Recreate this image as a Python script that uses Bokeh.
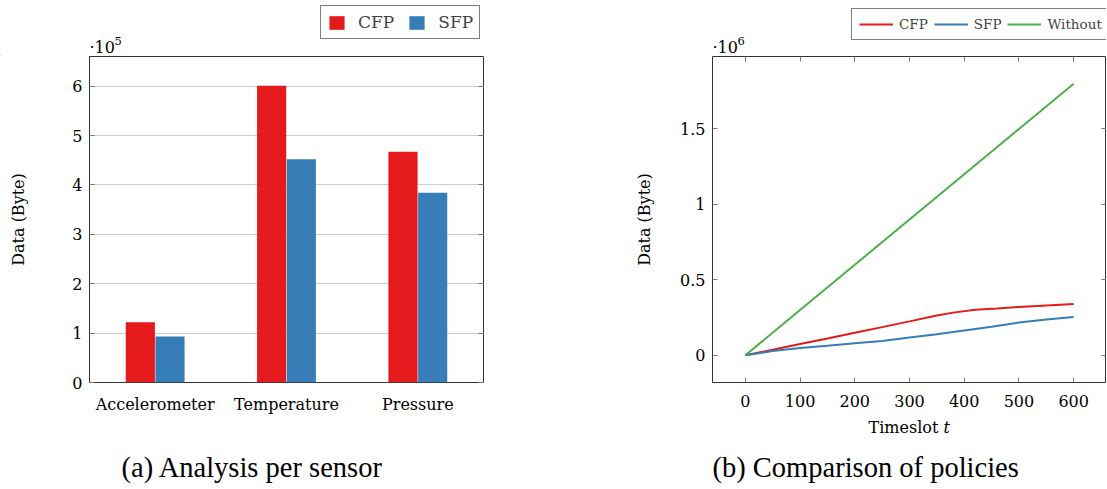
from bokeh.plotting import figure
from bokeh.models import (FactorRange, Range1d, Legend, LegendItem, LinearAxis, Label,
                          FixedTicker, CustomJSTickFormatter, ColumnDataSource)
from bokeh.transform import dodge
from bokeh.layouts import row, column
from bokeh.embed import file_html
from bokeh.resources import INLINE

# ---------------- data ----------------
sensors = ["Accelerometer", "Temperature", "Pressure"]
cfp_bytes = [1.22e5, 6.01e5, 4.67e5]
sfp_bytes = [0.93e5, 4.52e5, 3.84e5]
bar_ticks = [0, 1e5, 2e5, 3e5, 4e5, 5e5, 6e5]

t_cfp = [0, 50, 100, 150, 200, 250, 300, 350, 380, 420, 460, 500, 550, 600]
cfp_data = [0, 0.037e6, 0.075e6, 0.112e6, 0.150e6, 0.187e6, 0.225e6, 0.264e6, 0.283e6,
            0.302e6, 0.310e6, 0.320e6, 0.330e6, 0.340e6]
t_sfp = [0, 50, 100, 150, 200, 250, 300, 350, 400, 450, 500, 550, 600]
sfp_data = [0, 0.028e6, 0.048e6, 0.063e6, 0.080e6, 0.095e6, 0.118e6, 0.140e6, 0.165e6,
            0.190e6, 0.217e6, 0.237e6, 0.254e6]
t_without = [0, 100, 200, 300, 400, 500, 600]
without_data = [0, 0.3e6, 0.6e6, 0.9e6, 1.2e6, 1.5e6, 1.8e6]
line_xticks = [0, 100, 200, 300, 400, 500, 600]
line_yticks = [0, 0.5e6, 1.0e6, 1.5e6]

captions = ["(a) Analysis per sensor", "(b) Comparison of policies"]

RED = "#E41A1C"
BLUE = "#377EB8"
GREEN = "#4DAF4A"
FONT = "DejaVu Serif"
CAPFONT = "Liberation Serif"
TICKC = "#777777"

W1, W2 = 556, 550
TOPH = 56
MIDH = 361
BOTH = 70


def style_axis(ax, show_labels=True):
    ax.axis_line_color = None
    ax.major_tick_in = 5
    ax.major_tick_out = 0
    ax.minor_tick_line_color = None
    ax.major_tick_line_color = TICKC
    ax.major_label_text_font = FONT
    ax.major_label_text_font_size = "16px"
    ax.major_label_text_color = "black"
    ax.axis_label_text_font = FONT
    ax.axis_label_text_font_size = "16px"
    ax.axis_label_text_font_style = "normal"
    ax.axis_label_text_color = "black"
    if not show_labels:
        ax.formatter = CustomJSTickFormatter(code="return '';")
        ax.major_label_text_font_size = "0px"
        ax.major_label_standoff = 0


def strip(h):
    f = figure(width=W1 + W2, height=h, x_range=Range1d(0, W1 + W2), y_range=Range1d(0, h),
               output_backend="svg", toolbar_location=None, title_location=None,
               x_axis_location=None, y_axis_location=None, min_border=0,
               min_border_left=0, min_border_right=0, min_border_top=0, min_border_bottom=0)
    f.outline_line_color = None
    f.grid.grid_line_color = None
    return f


# ---------------- top strip: legends and exponent labels ----------------
top = strip(TOPH)
# off-range dummy renderers that only provide the legend swatches
d_cfp = top.vbar(x=[-1000], top=[1], width=1, fill_color=RED, line_color=None)
d_sfp = top.vbar(x=[-1000], top=[1], width=1, fill_color=BLUE, line_color=None)
d_lc = top.line(x=[-1000, -999], y=[1, 1], line_color=RED, line_width=2)
d_ls = top.line(x=[-1000, -999], y=[1, 1], line_color=BLUE, line_width=2)
d_lw = top.line(x=[-1000, -999], y=[1, 1], line_color=GREEN, line_width=2)
leg1 = Legend(items=[LegendItem(label="CFP", renderers=[d_cfp]),
                     LegendItem(label="SFP", renderers=[d_sfp])],
              location=(320, 17), orientation="horizontal", margin=0, padding=6,
              glyph_width=19, glyph_height=17, label_standoff=12, spacing=13,
              label_text_font=FONT, label_text_font_size="17px", label_height=20,
              border_line_color="black", border_line_width=1, background_fill_alpha=1)
leg2 = Legend(items=[LegendItem(label="CFP", renderers=[d_lc]),
                     LegendItem(label="SFP", renderers=[d_ls]),
                     LegendItem(label="Without", renderers=[d_lw])],
              location=(851, 16), orientation="horizontal", margin=0, padding=7,
              glyph_width=34, glyph_height=16, label_standoff=6, spacing=6,
              label_text_font=FONT, label_text_font_size="13.5px", label_height=16,
              border_line_color="black", border_line_width=1, background_fill_alpha=1)
top.add_layout(leg1, "center")
top.add_layout(leg2, "center")
for x0, ex in [(89, "5"), (712, "6")]:
    top.add_layout(Label(x=x0, y=9, text="·10", text_font=FONT, text_font_size="16px",
                         text_baseline="alphabetic", text_color="black"))
    top.add_layout(Label(x=x0 + 25, y=16, text=ex, text_font=FONT, text_font_size="11.5px",
                         text_baseline="alphabetic", text_color="black"))

# ---------------- left: bar chart ----------------
src = ColumnDataSource(dict(sensor=sensors, cfp=cfp_bytes, sfp=sfp_bytes))
p1 = figure(width=W1, height=MIDH, x_range=FactorRange(*sensors, range_padding=0),
            y_range=Range1d(0, 6.6e5), output_backend="svg", toolbar_location=None,
            title_location=None,
            min_border_left=89, min_border_right=73, min_border_top=0, min_border_bottom=35)
p1.vbar(x=dodge("sensor", -0.113, range=p1.x_range), top="cfp", width=0.222,
        source=src, fill_color=RED, line_color=None)
p1.vbar(x=dodge("sensor", 0.113, range=p1.x_range), top="sfp", width=0.222,
        source=src, fill_color=BLUE, line_color=None)
p1.outline_line_color = "#333333"
p1.xgrid.grid_line_color = None
p1.ygrid.grid_line_color = "#cccccc"
p1.ygrid.ticker = FixedTicker(ticks=bar_ticks)
p1.yaxis.ticker = FixedTicker(ticks=bar_ticks)
p1.yaxis.formatter = CustomJSTickFormatter(code="return (tick/1e5).toString();")
p1.yaxis.axis_label = "Data (Byte)"
for ax in p1.yaxis:
    style_axis(ax)
p1.yaxis.axis_label_standoff = 41
p1.yaxis.major_label_standoff = 7
ax_r = LinearAxis(ticker=FixedTicker(ticks=bar_ticks))
style_axis(ax_r, show_labels=False)
p1.add_layout(ax_r, "right")
style_axis(p1.xaxis[0])
p1.xaxis.major_tick_in = 0
p1.xaxis.major_label_standoff = 12

# ---------------- right: line chart ----------------
p2 = figure(width=W2, height=MIDH, x_range=Range1d(-60, 660), y_range=Range1d(-1.8e5, 1.98e6),
            output_backend="svg", toolbar_location=None, title_location=None,
            min_border_left=156, min_border_right=0, min_border_top=0, min_border_bottom=35)
p2.line(t_cfp, cfp_data, line_color=RED, line_width=2)
p2.line(t_sfp, sfp_data, line_color=BLUE, line_width=2)
p2.line(t_without, without_data, line_color=GREEN, line_width=2)
p2.outline_line_color = "#333333"
p2.grid.grid_line_color = None
p2.yaxis.ticker = FixedTicker(ticks=line_yticks)
p2.yaxis.formatter = CustomJSTickFormatter(code="return (tick/1e6).toString();")
p2.xaxis.ticker = FixedTicker(ticks=line_xticks)
for ax in p2.yaxis:
    style_axis(ax)
for ax in p2.xaxis:
    style_axis(ax)
p2.yaxis.axis_label = "Data (Byte)"
p2.yaxis.axis_label_standoff = 23
p2.yaxis.major_label_standoff = 7
p2.xaxis.major_label_standoff = 12
ax_r2 = LinearAxis(ticker=FixedTicker(ticks=line_yticks))
style_axis(ax_r2, show_labels=False)
p2.add_layout(ax_r2, "right")
ax_t2 = LinearAxis(ticker=FixedTicker(ticks=line_xticks))
style_axis(ax_t2, show_labels=False)
p2.add_layout(ax_t2, "above")

# ---------------- bottom strip: x-axis title of (b) and captions ----------------
bot = strip(BOTH)
bot.add_layout(Label(x=868, y=60, text="Timeslot", text_font=FONT, text_font_size="16px",
                     text_baseline="middle", text_color="black"))
bot.add_layout(Label(x=943, y=60, text="t", text_font=FONT, text_font_size="16px",
                     text_font_style="italic", text_baseline="middle", text_color="black"))
bot.add_layout(Label(x=121, y=20, text=captions[0], text_font=CAPFONT, text_font_size="28.5px",
                     text_baseline="middle", text_color="black"))
bot.add_layout(Label(x=712, y=20, text=captions[1], text_font=CAPFONT, text_font_size="28.5px",
                     text_baseline="middle", text_color="black"))

layout = column(top, row(p1, p2), bot)
open("out.html", "w").write(file_html(layout, INLINE))
